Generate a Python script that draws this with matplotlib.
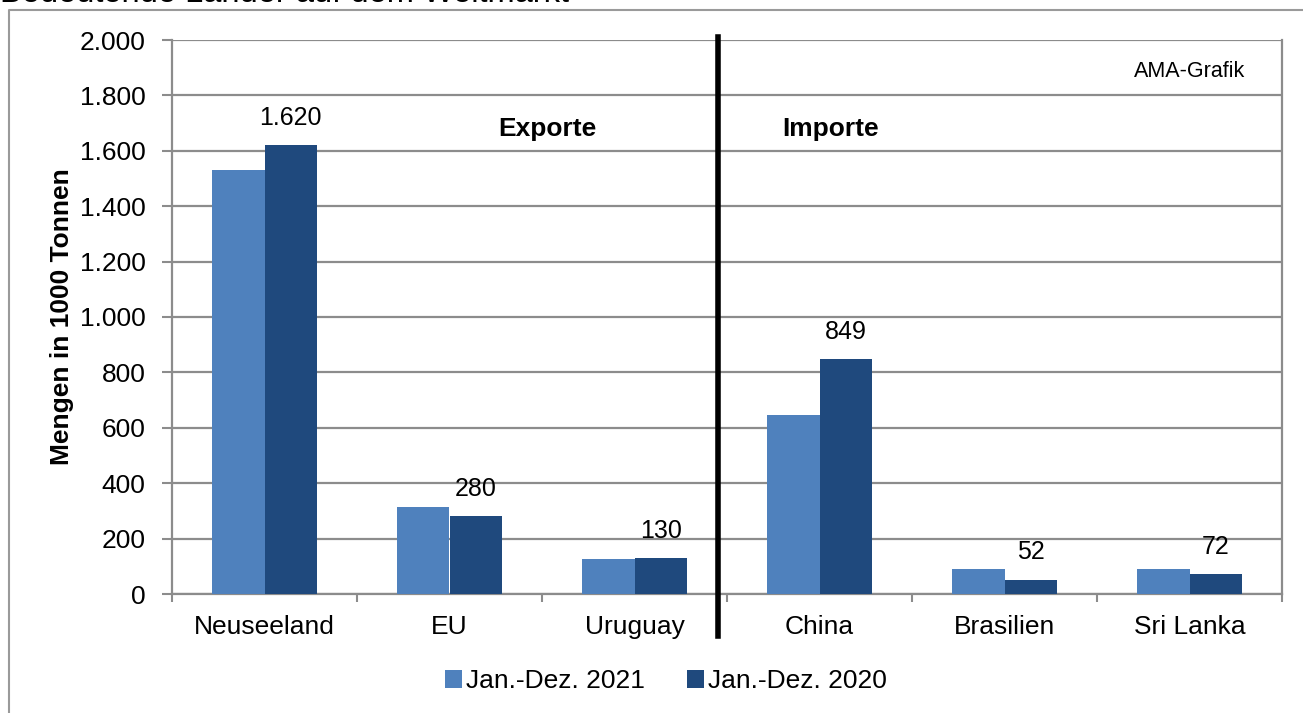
import numpy as np
import matplotlib
matplotlib.use("Agg")
from matplotlib import pyplot as plt
from matplotlib.lines import Line2D

plt.rcParams['font.family'] = ['Liberation Sans', 'DejaVu Sans']

countries = ['Neuseeland', 'EU', 'Uruguay', 'China', 'Brasilien', 'Sri Lanka']
vals_2021 = [1530, 315, 127, 645, 90, 90]
vals_2020 = [1620, 280, 130, 849, 52, 72]
labels_2020 = ['1.620', '280', '130', '849', '52', '72']
y_ticks = [0, 200, 400, 600, 800, 1000, 1200, 1400, 1600, 1800, 2000]
y_ticklabels = ['0', '200', '400', '600', '800', '1.000', '1.200', '1.400', '1.600', '1.800', '2.000']

W, H = 1303, 713
fig = plt.figure(figsize=(W / 100, H / 100), dpi=100)
ax = fig.add_axes([172 / W, 1 - 594 / H, 1110 / W, 554 / H])

grid_col = '#8c8c8c'
c21 = '#4f81bd'
c20 = '#1f497d'

x = np.arange(len(countries))
bw = 0.285
ax.bar(x - bw / 2, vals_2021, bw, color=c21, label='Jan.-Dez. 2021', zorder=3)
ax.bar(x + bw / 2, vals_2020, bw, color=c20, label='Jan.-Dez. 2020', zorder=3)

for xi, v, lab in zip(x, vals_2020, labels_2020):
    ax.annotate(lab, (xi + bw / 2, v), xytext=(0, 11), textcoords='offset points',
                ha='center', va='bottom', fontsize=18)

ax.set_xlim(-0.5, len(countries) - 0.5)
ax.set_ylim(0, 2000)
ax.set_yticks(y_ticks)
ax.set_yticklabels(y_ticklabels, fontsize=19)
ax.set_xticks(x)
ax.set_xticklabels(countries, fontsize=19)
ax.set_xticks(np.arange(-0.5, len(countries), 1), minor=True)
ax.tick_params(axis='x', which='major', length=0, pad=15)
ax.tick_params(axis='x', which='minor', length=6, width=1.5, color=grid_col, direction='out')
ax.tick_params(axis='y', length=7, width=1.5, color=grid_col, pad=12)
ax.yaxis.grid(True, color=grid_col, linewidth=1.6, zorder=0)
ax.set_axisbelow(True)
for s in ['left', 'bottom', 'right']:
    ax.spines[s].set_color(grid_col)
    ax.spines[s].set_linewidth(1.6)
ax.spines['top'].set_visible(False)

ax.set_ylabel('Mengen in 1000 Tonnen', fontsize=19, fontweight='bold', labelpad=4)

# divider between exports and imports
ax.plot([2.45, 2.45], [2010, -150], color='black', linewidth=4, clip_on=False, zorder=5)

ax.text(1.53, 1680, 'Exporte', ha='center', va='center', fontsize=19, fontweight='bold')
ax.text(3.06, 1680, 'Importe', ha='center', va='center', fontsize=19, fontweight='bold')
ax.text(5.3, 1886, 'AMA-Grafik', ha='right', va='center', fontsize=15.5)

ax.legend(loc='center', bbox_to_anchor=(666 / W, 1 - 681 / H), bbox_transform=fig.transFigure,
          ncol=2, frameon=False, fontsize=19, handlelength=0.65, handleheight=0.65,
          handletextpad=0.15, columnspacing=1.6)

# outer frame and cut-off title
fig.add_artist(Line2D([9 / W, 9 / W, 1.01], [-0.01, 1 - 10 / H, 1 - 10 / H],
                      transform=fig.transFigure, color='#9a9a9a', linewidth=1.5))
fig.text(0, 1 - 9 / H, 'Bedeutende Länder auf dem Weltmarkt', ha='left', va='bottom', fontsize=23.5)

fig.savefig('out.png', dpi=100)
